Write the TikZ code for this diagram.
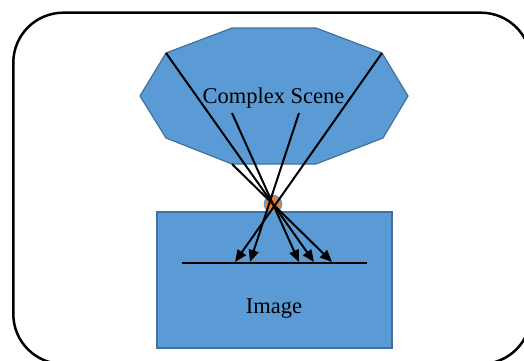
\documentclass[tikz,border=0pt]{standalone}
\usepackage{fontspec}
\setmainfont{Liberation Serif}
\usetikzlibrary{arrows.meta}
\definecolor{shapefill}{HTML}{5B9BD5}
\definecolor{shapeline}{HTML}{41719C}
\definecolor{dotfill}{HTML}{ED7D31}
\tikzset{
  ray/.style={line width=2pt, -{Triangle[length=12pt,width=10pt]}},
  blueshape/.style={fill=shapefill, draw=shapeline, line width=1.2pt},
  bigtext/.style={font=\fontsize{22.5}{26}\selectfont, anchor=base, inner sep=0pt},
}
\begin{document}
\begin{tikzpicture}[x=1pt,y=-1pt]
\useasboundingbox (0,0) rectangle (524,360);
\begin{scope}
\clip (0,0) rectangle (524,360);
\draw[line width=2.5pt, rounded corners=50pt] (13.3,12.7) rectangle (531,364);
\end{scope}
% decagon (complex scene)
\draw[blueshape] (232,28) -- (316,28) -- (382,53) -- (408,96) -- (383,138) -- (316,164) -- (232,164) -- (166,138) -- (140,96) -- (166,53) -- cycle;
% image rectangle
\node[blueshape, draw, rectangle, minimum width=235pt, minimum height=136pt, inner sep=0pt] (img) at (274.5,280) {};
% pinhole
\node[circle, fill=dotfill, draw=shapefill, line width=1.5pt, minimum size=17pt, inner sep=0pt] (pin) at (273,204) {};
% image plane
\coordinate (pl) at (182,263);
\coordinate (pr) at (367,263);
\draw[line width=2.5pt] (pl) -- (pr);
% labels
\node[bigtext] (scene) at (273.5,103) {Complex Scene};
\node[bigtext] (imlabel) at (274,313) {Image};
% rays
\coordinate (a1) at (166,53);  \coordinate (a2) at (314,262);
\coordinate (b1) at (382,53);  \coordinate (b2) at (235,262);
\coordinate (c1) at (232,113); \coordinate (c2) at (299,262);
\coordinate (d1) at (299,113); \coordinate (d2) at (250,262);
\coordinate (e1) at (232,164); \coordinate (e2) at (332,262);
\draw[ray] (a1) -- (a2);
\draw[ray] (b1) -- (b2);
\draw[ray] (c1) -- (c2);
\draw[ray] (d1) -- (d2);
\draw[ray] (e1) -- (e2);
\end{tikzpicture}
\end{document}
